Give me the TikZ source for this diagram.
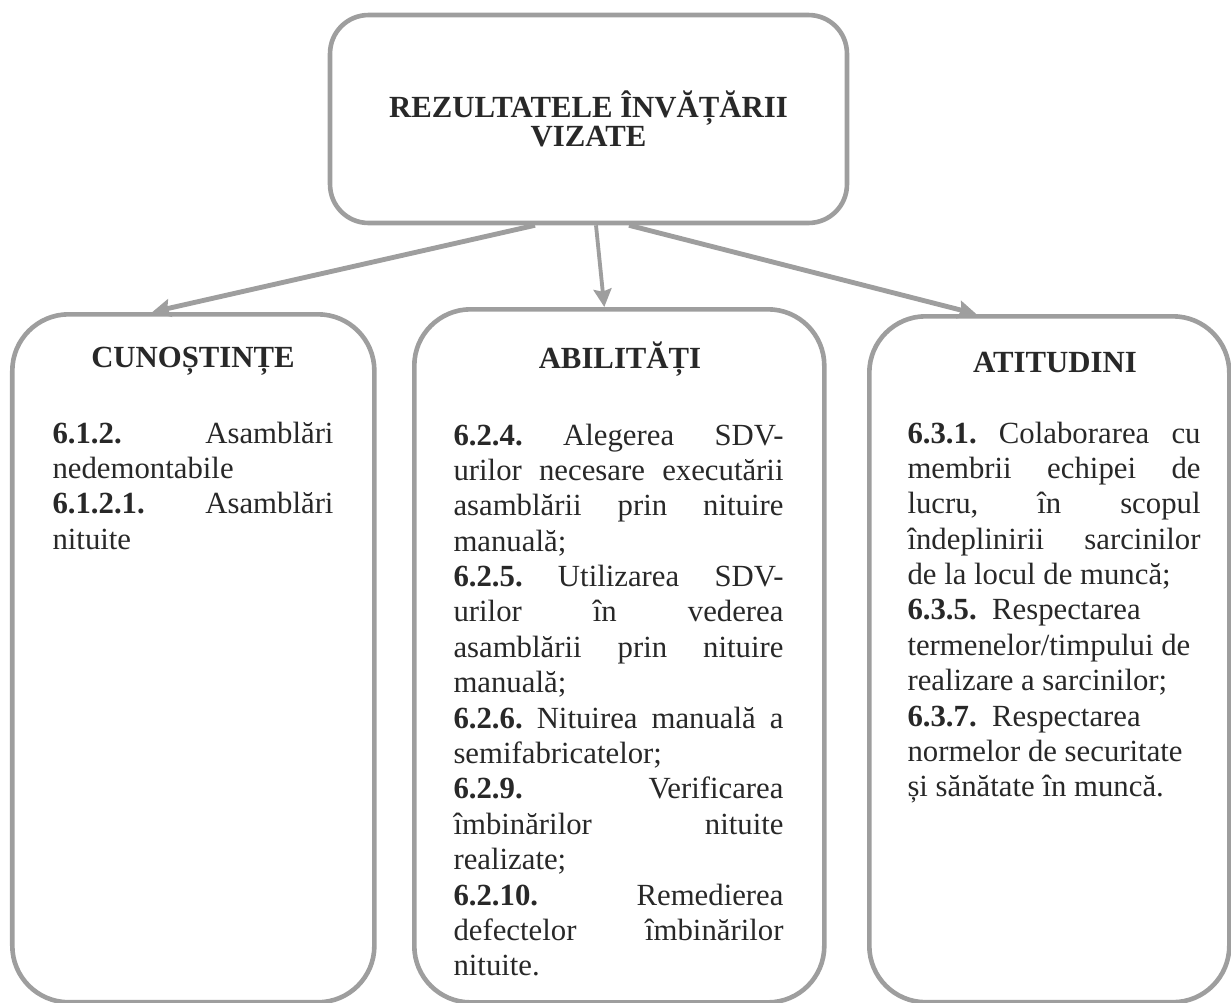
\documentclass[tikz,border=0pt]{standalone}
\usepackage{fontspec}
\setmainfont{Liberation Serif}
\usepackage{tikz}
\usetikzlibrary{positioning,arrows.meta,calc}
\definecolor{framegray}{RGB}{158,158,158}
\definecolor{inkgray}{RGB}{40,40,40}

\tikzset{
  topbox/.style={draw=framegray, line width=1.8pt, rounded corners=15pt,
    minimum width=201.6pt, minimum height=81.1pt, align=center, text=inkgray,
    font=\bfseries\fontsize{12}{11.5}\selectfont},
  colbox/.style={draw=framegray, line width=1.8pt, rounded corners=22pt, anchor=north west},
  coltitle/.style={font=\bfseries\fontsize{12}{13.8}\selectfont, text=inkgray, anchor=base},
  coltext/.style={font=\fontsize{12}{13.8}\selectfont\tolerance 10000 \hbadness 10000 \hyphenpenalty 10000 \frenchspacing,
    text=inkgray, align=justify, inner sep=0pt, anchor=base west},
  link/.style={->, draw=framegray, line width=1.9pt}
}

\begin{document}
\begin{tikzpicture}[x=0.39pt, y=-0.39pt, >={Stealth[length=7pt,width=7pt,inset=1pt]}]
  \useasboundingbox (0,0) rectangle (1231,1003);
  % top box
  \node[topbox] (rez) at (588.5,119) {REZULTATELE ÎNVĂȚĂRII\\VIZATE};
  % the three columns
  \node[colbox, minimum width=141.2pt, minimum height=268.3pt] (cun) at (10,312) {};
  \node[colbox, minimum width=159.9pt, minimum height=270.3pt] (abi) at (412,307) {};
  \node[colbox, minimum width=140.4pt, minimum height=267.5pt] (ati) at (867,314) {};
  \node[coltitle] (cunh) at (193,367) {CUNOȘTINȚE};
  \node[coltitle] (abih) at (620,368) {ABILITĂȚI};
  \node[coltitle] (atih) at (1055,372) {ATITUDINI};
  \node[coltext, text width=109.6pt] (cunt) at (52,443) {%
    \textbf{6.1.2.} Asamblări\linebreak nedemontabile\\
    \textbf{6.1.2.1.} Asamblări\linebreak nituite};
  \node[coltext, text width=128.7pt] (abit) at (453,445) {%
    \textbf{6.2.4.} Alegerea SDV-\linebreak urilor necesare executării\linebreak asamblării prin nituire\linebreak manuală;\\
    \textbf{6.2.5.} Utilizarea SDV-\linebreak urilor în vederea\linebreak asamblării prin nituire\linebreak manuală;\\
    \textbf{6.2.6.} Nituirea manuală a\linebreak semifabricatelor;\\
    \textbf{6.2.9.} Verificarea\linebreak îmbinărilor nituite\linebreak realizate;\\
    \textbf{6.2.10.} Remedierea\linebreak defectelor îmbinărilor\linebreak nituite.};
  \node[coltext, text width=114.3pt] (atit) at (907,443) {%
    \textbf{6.3.1.} Colaborarea cu\linebreak membrii echipei de\linebreak lucru, în scopul\linebreak îndeplinirii sarcinilor\linebreak de la locul de muncă;\\
    \textbf{6.3.5.}\hspace{6pt}Respectarea\\
    termenelor/timpului de\\
    realizare a sarcinilor;\\
    \textbf{6.3.7.}\hspace{6pt}Respectarea\\
    normelor de securitate\\
    și sănătate în muncă.};
  % arrows
  \draw[link] ($(rez.south)+(-53.5,0)$) -- ($(cun.north)+(-41,0)$);
  \draw[link, line width=1.5pt] ($(rez.south)+(7.5,0)$) -- ($(abi.north)+(-15,0)$);
  \draw[link] ($(rez.south)+(40.5,0)$) -- ($(ati.north)+(-73,0)$);
\end{tikzpicture}
\end{document}
